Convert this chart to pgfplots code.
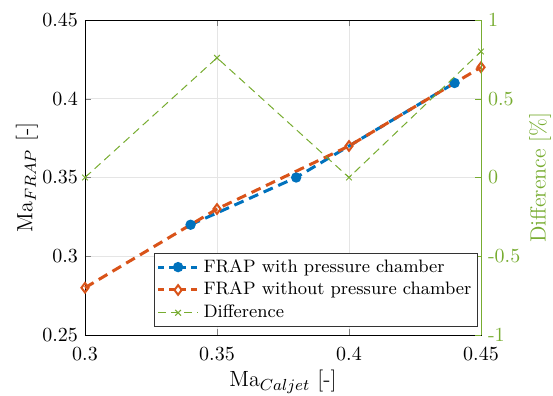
\documentclass[border=0pt]{standalone}
\usepackage{pgfplots}
\pgfplotsset{compat=1.18}
\definecolor{mblue}{rgb}{0,0.447,0.741}
\definecolor{morange}{rgb}{0.85,0.325,0.098}
\definecolor{mgreen}{rgb}{0.466,0.674,0.188}
\begin{document}
\begin{tikzpicture}
\useasboundingbox (-42.5pt,-30.5pt) rectangle (234pt,167.5pt);
\begin{axis}[
  at={(0pt,0pt)}, anchor=south west,
  width=198pt, height=157.5pt, scale only axis,
  xmin=0.3, xmax=0.45, ymin=0.25, ymax=0.45,
  xtick={0.3,0.35,0.4,0.45},
  xticklabels={0.3,0.35,0.4,0.45},
  ytick={0.25,0.3,0.35,0.4,0.45},
  yticklabels={0.25,0.3,0.35,0.4,0.45},
  ytick pos=left, xtick pos=both,
  tick align=inside,
  major tick length=3pt,
  grid=major,
  grid style={gray!20, line width=0.4pt},
  tick label style={font=\fontsize{10}{12}\selectfont},
  xticklabel style={yshift=-2.5pt},
  xlabel={Ma$_{Caljet}$ [-]},
  ylabel={Ma$_{FRAP}$ [-]},
  label style={font=\fontsize{11}{13}\selectfont},
  xlabel style={at={(axis description cs:0.5,-0.148)}, anchor=center},
  ylabel style={at={(axis description cs:-0.1465,0.5)}, anchor=center},
  axis line style={black, line width=0.4pt},
  clip=false,
]
\addplot[mblue, line width=1.5pt, dash pattern=on 5pt off 3pt, mark=*, mark size=1.8pt, mark options={solid}]
coordinates {(0.34,0.32) (0.38,0.35) (0.44,0.41)};
\addplot[morange, line width=1.5pt, dash pattern=on 5pt off 3pt, mark=diamond, mark size=2.4pt, mark options={solid, line width=1pt}]
coordinates {(0.3,0.28) (0.35,0.33) (0.4,0.37) (0.45,0.42)};
\end{axis}
\begin{axis}[
  at={(0pt,0pt)}, anchor=south west,
  width=198pt, height=157.5pt, scale only axis,
  xmin=0.3, xmax=0.45, ymin=-1, ymax=1,
  axis x line=none,
  axis y line*=right,
  ytick={-1,-0.5,0,0.5,1},
  yticklabels={{-1},{-0.5},0,0.5,1},
  tick align=inside,
  major tick length=3pt,
  y axis line style={mgreen, line width=0.4pt},
  ytick style={mgreen},
  yticklabel style={mgreen, font=\fontsize{10}{12}\selectfont},
  ylabel={Difference [\%]},
  ylabel style={mgreen, font=\fontsize{11}{13}\selectfont, at={(axis description cs:1.149,0.5)}, anchor=center},
  legend style={at={(rel axis cs:0.992,0.025)}, anchor=south east, draw=black!80, line width=0.5pt, font=\fontsize{9}{10.5}\selectfont, inner sep=1pt, row sep=-0.5pt},
  legend cell align=left,
  legend image code/.code={\draw[mark repeat=2,mark phase=2] plot coordinates {(0cm,0cm) (0.35cm,0cm) (0.7cm,0cm)};},
  clip=false,
]
\addlegendimage{mblue, line width=1.5pt, dash pattern=on 3pt off 2.5pt, mark=*, mark size=1.8pt, mark options={solid}}
\addlegendentry{FRAP with pressure chamber}
\addlegendimage{morange, line width=1.5pt, dash pattern=on 3pt off 2.5pt, mark=diamond, mark size=2.4pt, mark options={solid, line width=1pt}}
\addlegendentry{FRAP without pressure chamber}
\addplot[mgreen, line width=0.5pt, dash pattern=on 4pt off 2.5pt, mark=x, mark size=2pt, mark options={solid}]
coordinates {(0.3,0) (0.35,0.76) (0.4,0) (0.45,0.8)};
\addlegendentry{Difference}
\end{axis}
\end{tikzpicture}
\end{document}
